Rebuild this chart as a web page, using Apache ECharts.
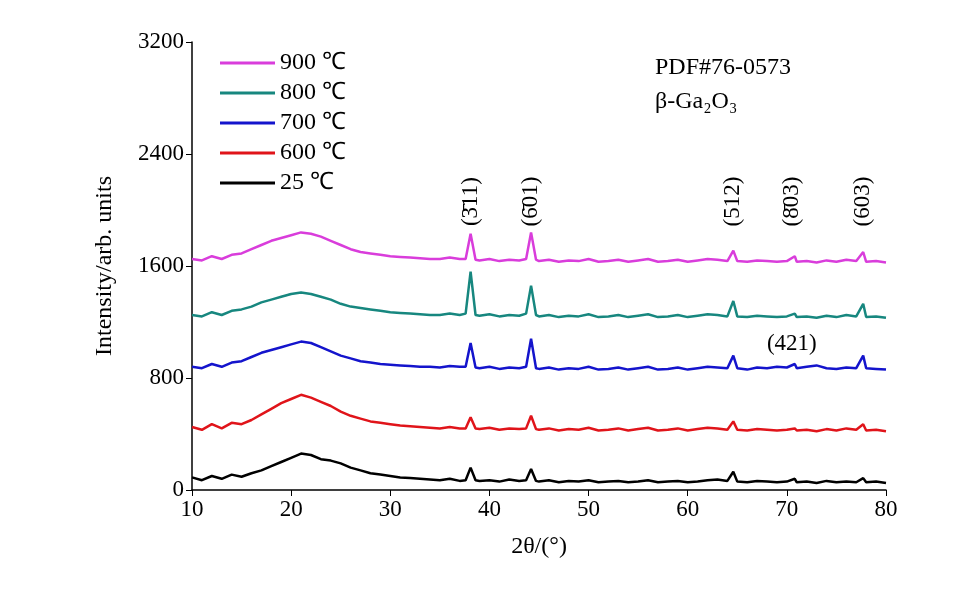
<!DOCTYPE html>
<html><head><meta charset="utf-8">
<script src="https://cdn.jsdelivr.net/npm/echarts@6/dist/echarts.min.js"></script>
<style>html,body{margin:0;background:#fff}#main{width:967px;height:603px}</style>
</head><body><div id="main"></div>
<script>
var angles = [10,11,12,13,14,15,16,17,18,19,20,21,22,23,24,25,26,27,28,29,30,31,32,33,34,35,36,37,
  37.6,38.1,38.6, 39,40,41,42,43, 43.7,44.2,44.7,
  45,46,47,48,49,50,51,52,53,54,55,56,57,58,59,60,61,62,63,64, 64.6,
  65,66,67,68,69,70, 70.8, 71,72,73,74,75,76,77, 77.7, 78,79,80];
var s25 = [90,70,100,80,110,95,120,140,170,200,230,260,250,220,210,190,160,140,120,110,100,90,85,80,75,70,80,65,
  70,160,70, 65,70,60,75,65, 70,150,65,
  60,70,55,65,60,70,55,60,65,55,60,70,55,60,65,55,60,70,75,65, 130,
  60,55,65,60,55,60, 80, 55,60,50,65,55,60,55, 85, 55,60,50];
var s600 = [450,430,470,440,480,470,500,540,580,620,650,680,660,630,600,560,530,510,490,480,470,460,455,450,445,440,450,440,
  440,520,440, 435,445,430,440,435, 440,530,435,
  430,440,425,435,430,445,425,430,440,425,435,445,425,430,440,425,435,445,440,430, 490,
  430,425,435,430,425,430, 440, 425,430,420,435,425,440,430, 470, 425,430,420];
var s700 = [880,870,900,880,910,920,950,980,1000,1020,1040,1060,1050,1020,990,960,940,920,910,900,895,890,885,880,880,875,885,880,
  880,1050,875, 870,880,865,875,870, 880,1080,870,
  865,875,860,870,865,880,860,865,875,860,870,880,860,865,875,860,870,880,875,870, 960,
  870,860,875,870,880,875, 900, 870,880,890,870,865,875,870, 960, 870,865,860];
var s800 = [1250,1240,1270,1250,1280,1290,1310,1340,1360,1380,1400,1410,1400,1380,1360,1330,1310,1300,1290,1280,1270,1265,1260,1255,1250,1250,1260,1250,
  1260,1560,1250, 1245,1255,1240,1250,1245, 1260,1460,1250,
  1240,1250,1235,1245,1240,1255,1235,1240,1250,1235,1245,1255,1235,1240,1250,1235,1245,1255,1250,1240, 1350,
  1240,1235,1245,1240,1235,1240, 1260, 1235,1240,1230,1245,1235,1250,1240, 1330, 1235,1240,1230];
var s900 = [1650,1640,1670,1650,1680,1690,1720,1750,1780,1800,1820,1840,1830,1810,1780,1750,1720,1700,1690,1680,1670,1665,1660,1655,1650,1650,1660,1650,
  1650,1830,1645, 1640,1650,1635,1645,1640, 1650,1840,1645,
  1635,1645,1630,1640,1635,1650,1630,1635,1645,1630,1640,1650,1630,1635,1645,1630,1640,1650,1645,1635, 1710,
  1635,1630,1640,1635,1630,1635, 1670, 1630,1635,1625,1640,1630,1645,1635, 1700, 1630,1635,1625];
var names = ['900 ℃','800 ℃','700 ℃','600 ℃','25 ℃'];
var colors = ['#d93ddb','#17877f','#1414cc','#e0141a','#000000'];
var values = [s900,s800,s700,s600,s25];
var peakLabels = ['(3̄11)','(6̄01)','(512)','(8̄03)','(603)'];
var peakPos = [38.1,44.2,64.6,70.5,77.7];
var peakLabelY = 2060;

var font = 'Liberation Serif';
var series = names.map(function(n,i){
  return {name:n,type:'line',symbol:'none',color:colors[i],lineStyle:{width:2.5},
    data: angles.map(function(a,j){return [a,values[i][j]];})};
});
series.push({type:'scatter',symbolSize:1,silent:true,itemStyle:{opacity:0},
  data: peakPos.map(function(p,i){return [p,peakLabelY,peakLabels[i]];}),
  label:{show:true,formatter:function(p){return p.data[2];},rotate:90,position:'inside',opacity:1,
    fontFamily:font,fontSize:23,color:'#000'}});
series.push({type:'scatter',symbolSize:1,silent:true,itemStyle:{opacity:0},data:[[70.5,1045,'(421)']],
  label:{show:true,formatter:function(p){return p.data[2];},position:'inside',opacity:1,fontFamily:font,fontSize:23,color:'#000'}});

var chart = echarts.init(document.getElementById('main'));
chart.setOption({
  animation:false,
  grid:{left:192,right:81,top:42,bottom:113},
  legend:{data:names,orient:'vertical',left:215,top:46,itemWidth:55,itemHeight:3,itemGap:6,
    icon:'rect',textStyle:{fontFamily:font,fontSize:24,color:'#000'}},
  xAxis:{type:'value',min:10,max:80,interval:10,name:'2θ/(°)',nameLocation:'middle',nameGap:45,
    nameTextStyle:{fontFamily:font,fontSize:24,color:'#000'},
    axisLine:{lineStyle:{color:'#000',width:1.5}},axisTick:{length:6,lineStyle:{color:'#000'}},
    axisLabel:{fontFamily:font,fontSize:23,color:'#000'},splitLine:{show:false}},
  yAxis:{type:'value',min:0,max:3200,interval:800,name:'Intensity/arb. units',nameLocation:'middle',nameGap:75,
    nameTextStyle:{fontFamily:font,fontSize:24,color:'#000'},
    axisLine:{show:true,lineStyle:{color:'#000',width:1.5}},axisTick:{show:true,length:6,lineStyle:{color:'#000'}},
    axisLabel:{fontFamily:font,fontSize:23,color:'#000',formatter:function(v){return String(v);}},splitLine:{show:false}},
  graphic:[
    {type:'text',left:655,top:56,style:{text:'PDF#76-0573',font:'24px "Liberation Serif"',fill:'#000'}},
    {type:'text',left:655,top:90,style:{text:'β-Ga₂O₃',font:'24px "Liberation Serif"',fill:'#000'}}
  ],
  series:series
});
</script></body></html>
